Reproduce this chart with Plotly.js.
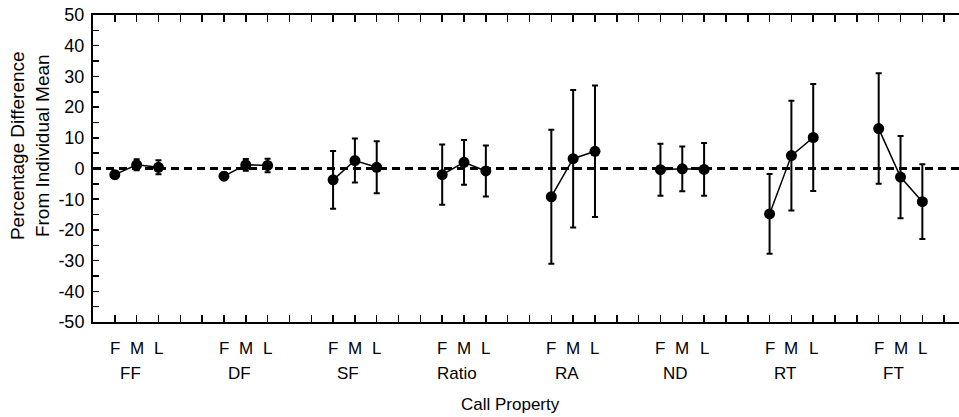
<!DOCTYPE html>
<html>
<head>
<meta charset="utf-8">
<script src="https://cdn.plot.ly/plotly-3.0.1.min.js"></script>
<style>
html, body { margin: 0; padding: 0; background: #fff; overflow: hidden; width: 959px; height: 417px; }
#chart { width: 966px; height: 417px; }
</style>
</head>
<body>
<div id="chart"></div>
<script>
// ---- data ----
var groups = ['FF', 'DF', 'SF', 'Ratio', 'RA', 'ND', 'RT', 'FT'];
var phases = ['F', 'M', 'L'];
var meanFF = [-2.0, 1.2, 0.4];
var meanDF = [-2.5, 1.2, 1.0];
var meanSF = [-3.7, 2.6, 0.4];
var meanRatio = [-2.0, 2.0, -0.8];
var meanRA = [-9.2, 3.2, 5.6];
var meanND = [-0.4, -0.1, -0.3];
var meanRT = [-14.8, 4.2, 10.1];
var meanFT = [13.0, -2.8, -10.8];
var errFF = [1.2, 1.8, 2.3];
var errDF = [1.2, 1.9, 2.2];
var errSF = [9.4, 7.2, 8.5];
var errRatio = [9.8, 7.3, 8.3];
var errRA = [21.8, 22.4, 21.4];
var errND = [8.5, 7.3, 8.6];
var errRT = [13.0, 17.9, 17.4];
var errFT = [18.0, 13.4, 12.2];
var yTickVals = [-50, -40, -30, -20, -10, 0, 10, 20, 30, 40, 50];
var yTickText = ['-50', '-40', '-30', '-20', '-10', '0', '10', '20', '30', '40', '50'];

var means = [meanFF, meanDF, meanSF, meanRatio, meanRA, meanND, meanRT, meanFT];
var errs = [errFF, errDF, errSF, errRatio, errRA, errND, errRT, errFT];

var FONT = '"Liberation Sans", Arial, sans-serif';
var traces = [];
var annotations = [];
var slot = 5;           // category slots per group on the x axis
var nSlots = groups.length * slot - 1;

groups.forEach(function (g, gi) {
  var xs = phases.map(function (p, j) { return gi * slot + j + 1; });
  traces.push({
    type: 'scatter', mode: 'lines+markers',
    x: xs, y: means[gi],
    line: { color: '#000', width: 1.5 },
    marker: { color: '#000', size: 11, symbol: 'circle' },
    error_y: { type: 'data', array: errs[gi], visible: true, color: '#000', thickness: 2, width: 3 },
    showlegend: false, hoverinfo: 'x+y'
  });
  xs.forEach(function (x, j) {
    annotations.push({
      x: x, xref: 'x', y: 0, yref: 'paper', yanchor: 'middle', yshift: -26,
      text: phases[j], showarrow: false,
      font: { family: FONT, size: 17, color: '#000' }
    });
  });
  annotations.push({
    x: xs[1] - 0.3, xref: 'x', y: 0, yref: 'paper', yanchor: 'middle', yshift: -51,
    text: g, showarrow: false,
    font: { family: FONT, size: 17, color: '#000' }
  });
});

annotations.push({
  x: 0.478, xref: 'paper', y: 0, yref: 'paper', yanchor: 'middle', yshift: -82,
  text: 'Call Property', showarrow: false,
  font: { family: FONT, size: 17, color: '#000' }
});
annotations.push({
  x: 0, xref: 'paper', xanchor: 'center', xshift: -63, y: 0.573, yref: 'paper', yanchor: 'middle',
  text: 'Percentage Difference<br>From Individual Mean', textangle: -90, showarrow: false,
  font: { family: FONT, size: 19, color: '#000' }
});

var xTicks = [];
for (var i = 0; i <= nSlots + 1; i++) xTicks.push(i);

var layout = {
  width: 966, height: 417,
  margin: { l: 93, r: 0, t: 15, b: 95 },
  paper_bgcolor: '#fff', plot_bgcolor: '#fff',
  font: { family: FONT, size: 17, color: '#000' },
  xaxis: {
    range: [0, nSlots + 1], tickvals: xTicks, showticklabels: false,
    ticks: 'inside', ticklen: 7, tickwidth: 1.5, tickcolor: '#000',
    showline: true, linewidth: 2, linecolor: '#000', mirror: 'ticks',
    showgrid: false, zeroline: false
  },
  yaxis: {
    range: [-50, 50], tickvals: yTickVals, ticktext: yTickText,
    ticks: 'inside', ticklen: 6, tickwidth: 1.5, tickcolor: '#000',
    minor: { dtick: 5, tick0: 0, ticks: 'inside', ticklen: 6, tickwidth: 1.5, tickcolor: '#000', showgrid: false },
    showline: true, linewidth: 2, linecolor: '#000', mirror: 'ticks',
    showgrid: false, zeroline: false,
    tickfont: { family: FONT, size: 18, color: '#000' },
    ticklabelstandoff: 3
  },
  shapes: [{
    type: 'line', xref: 'paper', x0: 0, x1: 1, yref: 'y', y0: 0, y1: 0,
    line: { color: '#000', width: 3, dash: '8px,5px' }, layer: 'below'
  }],
  annotations: annotations
};

Plotly.newPlot('chart', traces, layout, { staticPlot: true, displayModeBar: false });
</script>
</body>
</html>
